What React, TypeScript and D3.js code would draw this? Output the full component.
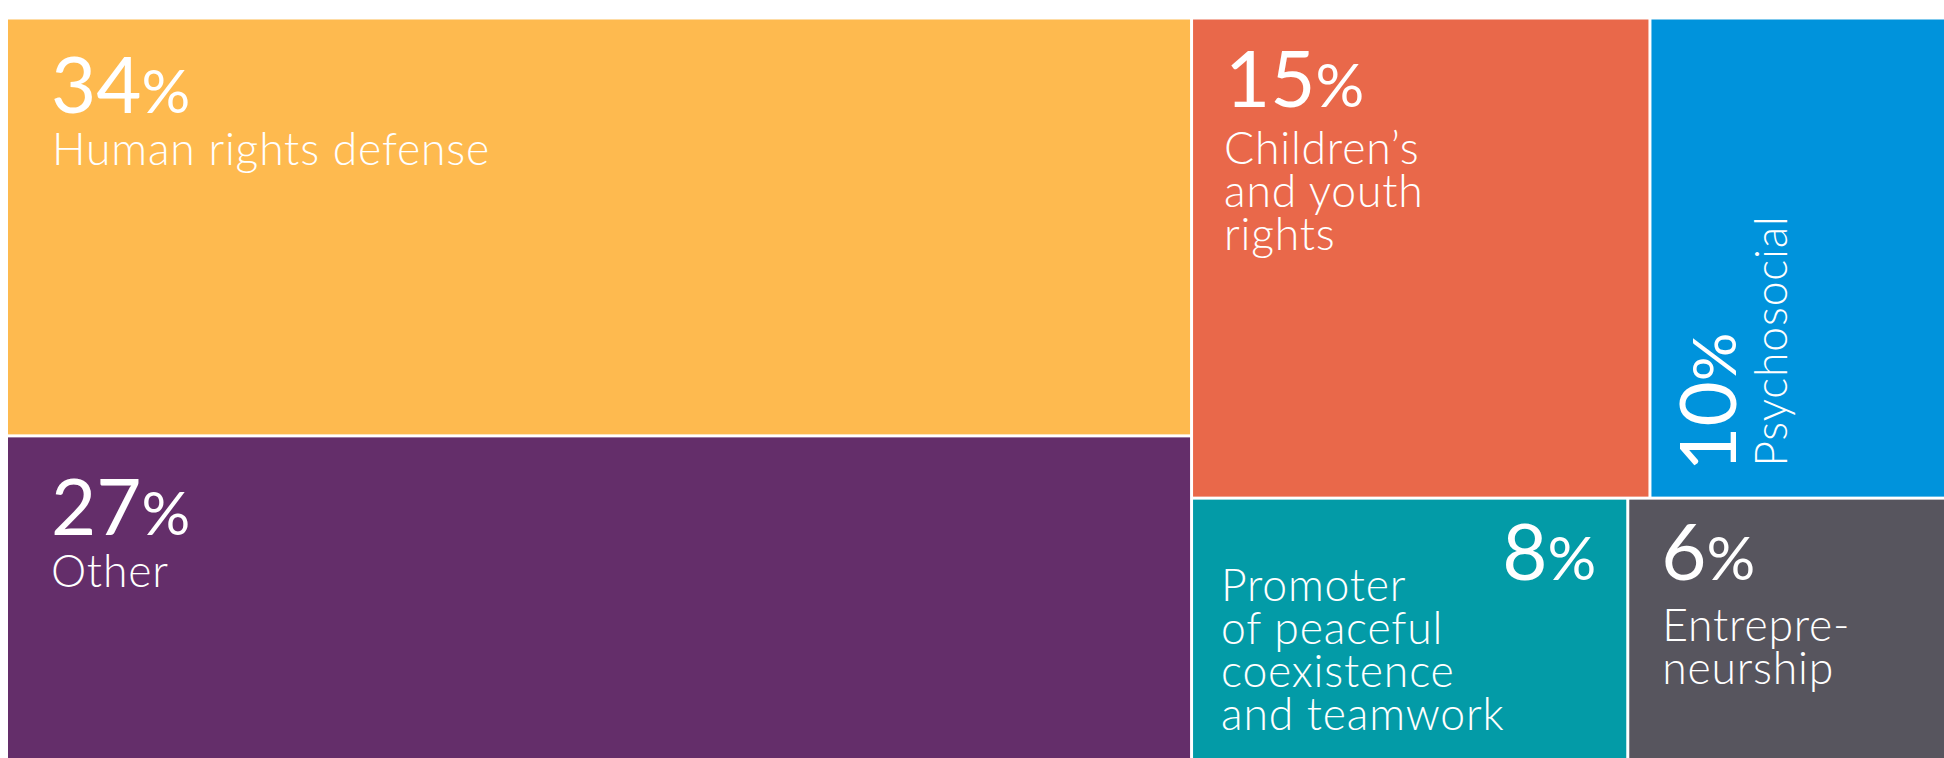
import React from "react";
import * as d3 from "d3";

// ---- data ----
const categories = [
  "Human rights defense",
  "Other",
  "Children’s and youth rights",
  "Psychosocial",
  "Promoter of peaceful coexistence and teamwork",
  "Entrepreneurship",
];
const values = [34.2, 27.1, 15.2, 9.8, 8.1, 5.9];
const groups = ["left", "left", "rightTop", "rightTop", "rightBottom", "rightBottom"];
const pctLabels = ["34", "27", "15", "10", "8", "6"];
const labelLines = [
  ["Human rights defense"],
  ["Other"],
  ["Children’s", "and youth", "rights"],
  ["Psychosocial"],
  ["Promoter", "of peaceful", "coexistence", "and teamwork"],
  ["Entrepre-", "neurship"],
];
const colors = ["#FEBA4F", "#642E6A", "#E9684A", "#0093DC", "#039BA7", "#57555E"];

// ---- label layout (styles) ----
type LabelStyle = {
  mode: "normal" | "rotated" | "pctRight";
  pdx: number; pdy: number; ldx: number; ldy: number;
};
const labelStyles: LabelStyle[] = [
  { mode: "normal", pdx: 43, pdy: 93, ldx: 44, ldy: 145.5 },
  { mode: "normal", pdx: 43, pdy: 98, ldx: 43, ldy: 150 },
  { mode: "normal", pdx: 32, pdy: 87, ldx: 31, ldy: 144 },
  { mode: "rotated", pdx: 85, pdy: -25, ldx: 135.5, ldy: -30 },
  { mode: "pctRight", pdx: -30, pdy: 80, ldx: 28, ldy: 101 },
  { mode: "normal", pdx: 32, pdy: 80, ldx: 33, ldy: 141 },
];

const W = 1944;
const H = 758;
const FONT = "Lato, 'Open Sans', sans-serif";
const PCT_SIZE = 78;
const LBL_SIZE = 44.5;
const LINE_H = 43;

type Leaf = { name: string; value: number; i: number };

export default function App() {
  const leaves: Leaf[] = categories.map((name, i) => ({ name, value: values[i], i }));
  const nest = {
    name: "root",
    children: [
      { name: "left", children: leaves.filter((d) => groups[d.i] === "left") },
      {
        name: "right",
        children: [
          { name: "rightTop", children: leaves.filter((d) => groups[d.i] === "rightTop") },
          { name: "rightBottom", children: leaves.filter((d) => groups[d.i] === "rightBottom") },
        ],
      },
    ],
  };

  const root = d3
    .hierarchy<any>(nest)
    .sum((d: any) => (d.children ? 0 : d.value));

  const x0 = 8;
  const y0 = 19.5;
  d3.treemap<any>()
    .tile(d3.treemapSliceDice)
    .size([W - x0, 746])
    .paddingInner(3)
    .round(false)(root);

  const cells = root.leaves() as any[];

  return (
    <svg
      width={W}
      height={H}
      style={{ position: "absolute", left: 0, top: 0, display: "block" }}
      fontFamily={FONT}
    >
      <rect x={0} y={0} width={W} height={H} fill="#ffffff" />
      <g transform={`translate(${x0},${y0})`}>
        {cells.map((c) => {
          const i = c.data.i as number;
          const st = labelStyles[i];
          const w = c.x1 - c.x0;
          const h = c.y1 - c.y0;
          const pct = (
            <>
              {pctLabels[i]}
              <tspan fontSize={PCT_SIZE * 0.78}>%</tspan>
            </>
          );
          return (
            <g key={i} transform={`translate(${c.x0},${c.y0})`}>
              <rect width={w} height={h} fill={colors[i]} />
              {st.mode === "rotated" ? (
                <g transform={`translate(0,${h})`}>
                  <text
                    transform={`translate(${st.pdx},${st.pdy}) rotate(-90)`}
                    fill="#fff"
                    fontSize={PCT_SIZE}
                    fontWeight={400}
                  >
                    {pct}
                  </text>
                  <text
                    transform={`translate(${st.ldx},${st.ldy}) rotate(-90)`}
                    fill="#fff"
                    fontSize={LBL_SIZE}
                    fontWeight={300}
                    letterSpacing={0.8}
                  >
                    {labelLines[i][0]}
                  </text>
                </g>
              ) : (
                <>
                  <text
                    x={st.mode === "pctRight" ? w + st.pdx : st.pdx}
                    y={st.pdy}
                    textAnchor={st.mode === "pctRight" ? "end" : "start"}
                    fill="#fff"
                    fontSize={PCT_SIZE}
                    fontWeight={400}
                  >
                    {pct}
                  </text>
                  <text fill="#fff" fontSize={LBL_SIZE} fontWeight={300} letterSpacing={0.8}>
                    {labelLines[i].map((ln, k) => (
                      <tspan key={k} x={st.ldx} y={st.ldy + k * LINE_H}>
                        {ln}
                      </tspan>
                    ))}
                  </text>
                </>
              )}
            </g>
          );
        })}
      </g>
    </svg>
  );
}
